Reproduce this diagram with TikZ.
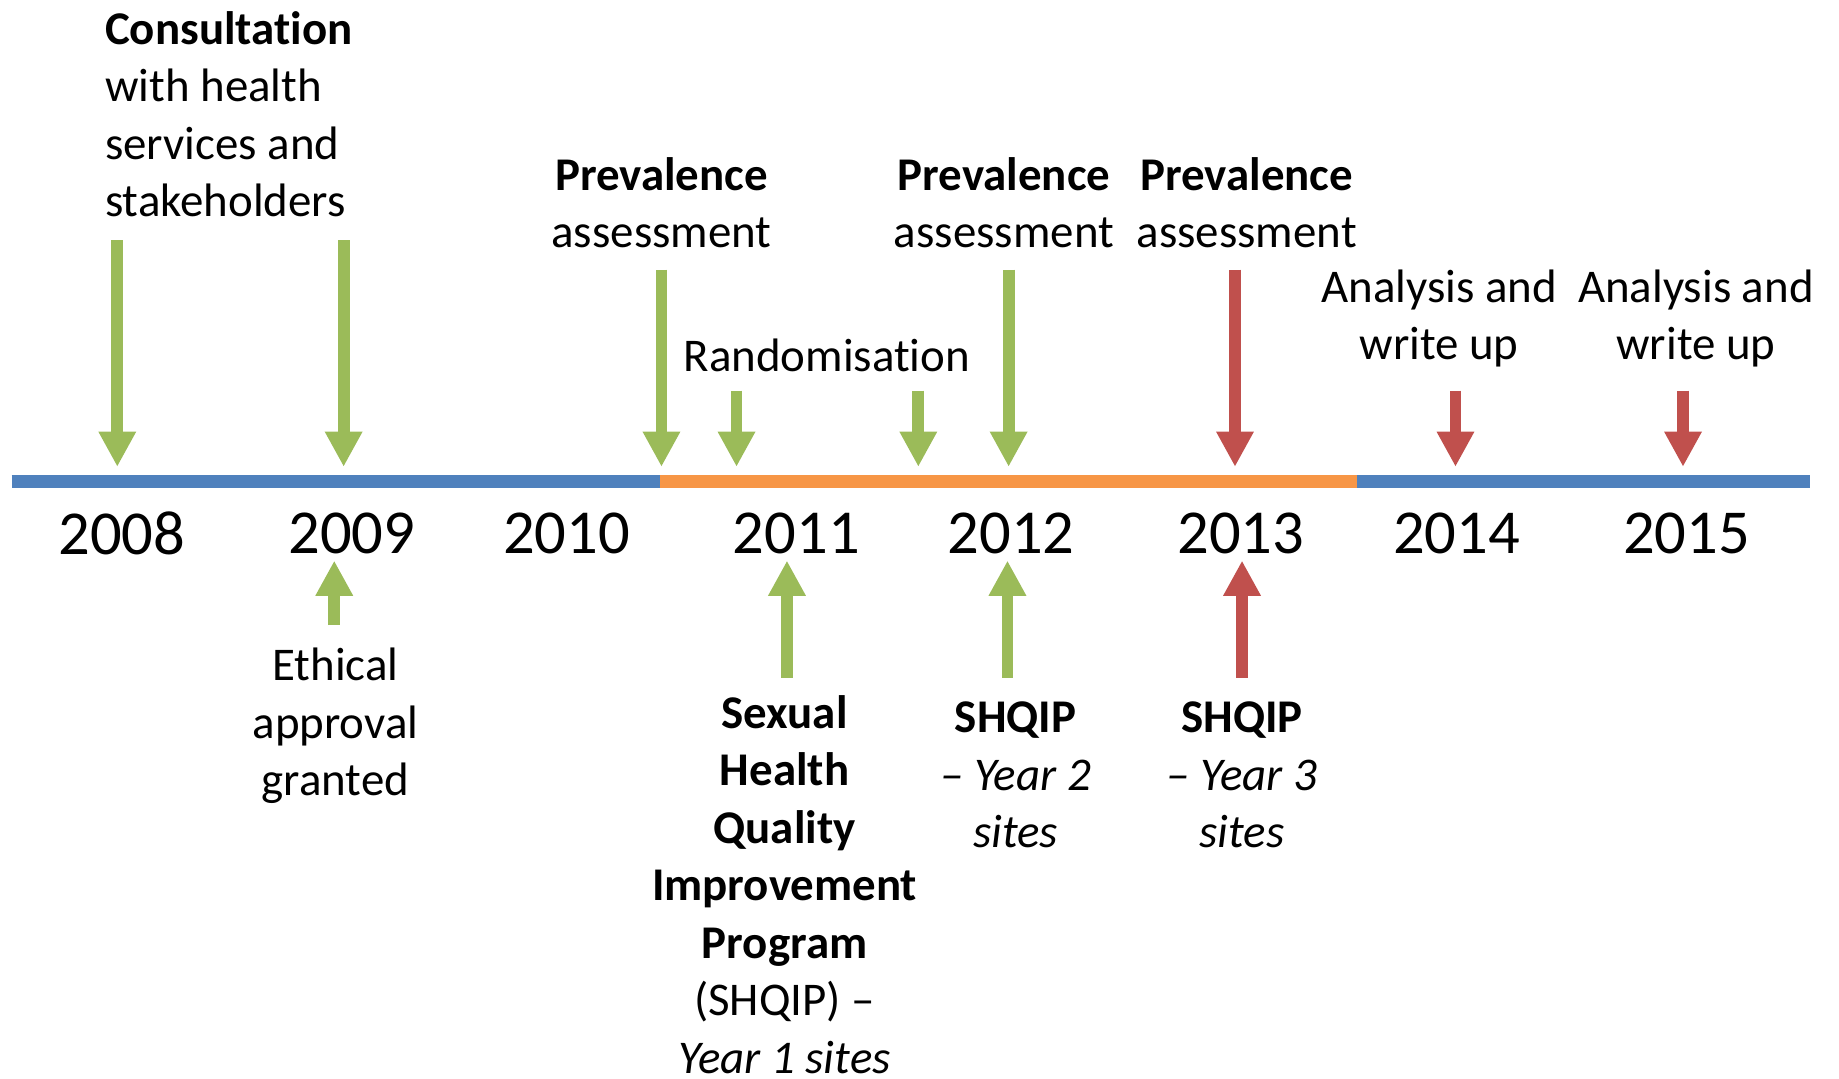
\documentclass[tikz,border=0pt]{standalone}
\usepackage{fontspec}
\setmainfont{Carlito}[Ligatures=NoCommon]
\usetikzlibrary{arrows.meta}
\definecolor{tlgreen}{HTML}{9BBB59}
\definecolor{tlred}{HTML}{C0504D}
\definecolor{tlblue}{HTML}{4F81BD}
\definecolor{tlorange}{HTML}{F79646}

\begin{document}
\begin{tikzpicture}[x=0.3pt, y=-0.3pt,
        lbl/.style={inner sep=0pt, align=center, font=\fontsize{12}{14.7}\selectfont},
        yr/.style={inner sep=0pt, font=\fontsize{16}{19}\selectfont},
        arr/.style={line width=3pt, -{Triangle[width=9pt, length=9pt]}},
        bar/.style={line width=3.4pt}]
        \useasboundingbox (0,0) rectangle (1568,920);

        \node[lbl, align=left, anchor=west] at (89, 97.5) (cons) {\textbf{Consultation}\\with health\\services and\\stakeholders};
        \node[lbl] at (564, 173)      (prevA)  {\textbf{Prevalence}\\assessment};
        \node[lbl] at (856, 173)      (prevB)  {\textbf{Prevalence}\\assessment};
        \node[lbl] at (1063, 173)     (prevC)  {\textbf{Prevalence}\\assessment};
        \node[lbl] at (705, 303)      (rand)   {Randomisation};
        \node[lbl] at (1227, 271.5)   (analA)  {Analysis and\\write up};
        \node[lbl] at (1446, 271.5)   (analB)  {Analysis and\\write up};

        \node[yr] at (104, 455)       (y2008)  {2008};
        \node[yr] at (300, 455)       (y2009)  {2009};
        \node[yr] at (483, 455)       (y2010)  {2010};
        \node[yr] at (679, 455)       (y2011)  {2011};
        \node[yr] at (862, 455)       (y2012)  {2012};
        \node[yr] at (1058, 455)      (y2013)  {2013};
        \node[yr] at (1242, 455)      (y2014)  {2014};
        \node[yr] at (1438, 455)      (y2015)  {2015};

        \node[lbl] at (286, 619)      (ethic)  {Ethical\\approval\\granted};
        \node[lbl] at (669, 754)      (shqipA) {\textbf{Sexual}\\\textbf{Health}\\\textbf{Quality}\\\textbf{Improvement}\\\textbf{Program}\\(SHQIP) –\\\textit{Year 1 sites}};
        \node[lbl] at (866, 661)      (shqipB) {\textbf{SHQIP}\\\textit{– Year 2}\\\textit{sites}};
        \node[lbl] at (1059, 661)     (shqipC) {\textbf{SHQIP}\\\textit{– Year 3}\\\textit{sites}};

        \coordinate (start)  at (10, 410.5);
        \coordinate (phaseA) at (563, 410.5);
        \coordinate (phaseB) at (1157, 410.5);
        \coordinate (stop)   at (1543, 410.5);

        \coordinate (c1) at (100, 205);   \coordinate (c1-tip) at (100, 398);
        \coordinate (c2) at (293, 205);   \coordinate (c2-tip) at (293, 398);
        \coordinate (p1) at (564, 230);   \coordinate (p1-tip) at (564, 398);
        \coordinate (r1) at (628, 333);   \coordinate (r1-tip) at (628, 398);
        \coordinate (r2) at (783, 333);   \coordinate (r2-tip) at (783, 398);
        \coordinate (p2) at (860, 230);   \coordinate (p2-tip) at (860, 398);
        \coordinate (p3) at (1053, 230);  \coordinate (p3-tip) at (1053, 398);
        \coordinate (a1) at (1241, 333);  \coordinate (a1-tip) at (1241, 398);
        \coordinate (a2) at (1435, 333);  \coordinate (a2-tip) at (1435, 398);

        \coordinate (e1) at (285, 533);   \coordinate (e1-tip) at (285, 478);
        \coordinate (s1) at (671, 578);   \coordinate (s1-tip) at (671, 478);
        \coordinate (s2) at (859, 578);   \coordinate (s2-tip) at (859, 478);
        \coordinate (s3) at (1059, 578);  \coordinate (s3-tip) at (1059, 478);

        \draw[bar, tlblue] (start) -- (phaseA);
        \draw[bar, tlorange] (phaseA) -- (phaseB);
        \draw[bar, tlblue] (phaseB) -- (stop);

        \draw[arr, tlgreen] (c1) -- (c1-tip);
        \draw[arr, tlgreen] (c2) -- (c2-tip);
        \draw[arr, tlgreen] (p1) -- (p1-tip);
        \draw[arr, tlgreen] (r1) -- (r1-tip);
        \draw[arr, tlgreen] (r2) -- (r2-tip);
        \draw[arr, tlgreen] (p2) -- (p2-tip);
        \draw[arr, tlred] (p3) -- (p3-tip);
        \draw[arr, tlred] (a1) -- (a1-tip);
        \draw[arr, tlred] (a2) -- (a2-tip);

        \draw[arr, tlgreen] (e1) -- (e1-tip);
        \draw[arr, tlgreen] (s1) -- (s1-tip);
        \draw[arr, tlgreen] (s2) -- (s2-tip);
        \draw[arr, tlred] (s3) -- (s3-tip);
    \end{tikzpicture}
\end{document}
